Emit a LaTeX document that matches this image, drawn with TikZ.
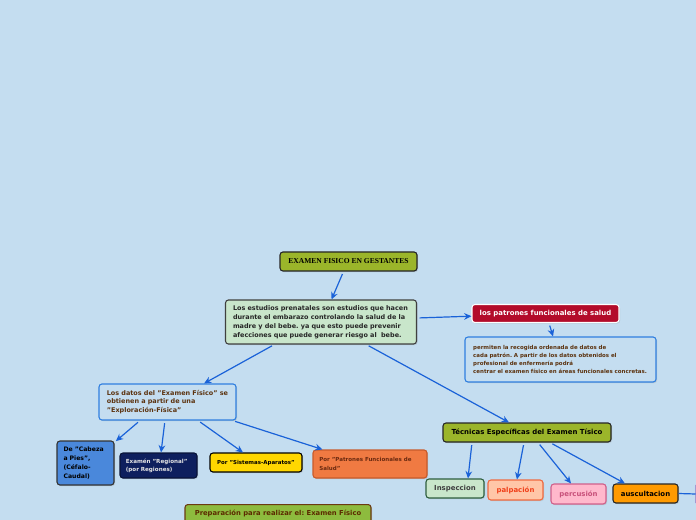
\documentclass[tikz,border=0pt]{standalone}
\usepackage{fontspec}
\setmainfont{DejaVu Sans}
\newfontfamily\serifbf{Liberation Serif}
\usetikzlibrary{arrows.meta,shadows}
\frenchspacing
\definecolor{bgc}{HTML}{C4DDF0}
\definecolor{olive}{HTML}{9BB52A}
\definecolor{lgreen}{HTML}{C9E6CB}
\definecolor{crimson}{HTML}{B30B2A}
\definecolor{bluebd}{HTML}{2F7FE0}
\definecolor{browntx}{HTML}{5C3310}
\definecolor{midblue}{HTML}{4A88DB}
\definecolor{navy}{HTML}{0E1F5E}
\definecolor{yel}{HTML}{FFD700}
\definecolor{orpat}{HTML}{F07A42}
\definecolor{orpatbd}{HTML}{C85A2A}
\definecolor{orpattx}{HTML}{6B2A10}
\definecolor{insbd}{HTML}{2E5E3E}
\definecolor{palfill}{HTML}{FFC6A8}
\definecolor{palbd}{HTML}{F06A40}
\definecolor{paltx}{HTML}{F0401A}
\definecolor{perfill}{HTML}{FFB8CC}
\definecolor{perbd}{HTML}{D0608A}
\definecolor{pertx}{HTML}{C8507A}
\definecolor{ausc}{HTML}{FF9A00}
\definecolor{prepfill}{HTML}{8DBB3E}
\definecolor{prepbd}{HTML}{6B3A12}
\definecolor{preptx}{HTML}{5B2A00}
\definecolor{edgec}{HTML}{1A62D8}
\definecolor{purp}{HTML}{6A1B9A}
\tikzset{
  box/.style={rounded corners=2.2pt, line width=0.8pt, inner sep=0pt, font=\bfseries,
    drop shadow={shadow xshift=0.8pt, shadow yshift=-0.8pt, opacity=0.25}},
  conn/.style={draw=edgec, line width=0.9pt, shorten <=2pt, -{Stealth[length=5.5pt,width=5pt]}},
  plain/.style={draw=edgec, line width=0.9pt}
}
\begin{document}
\begin{tikzpicture}[x=0.75pt,y=-0.75pt]
\fill[bgc] (0,0) rectangle (696,520);
\useasboundingbox (0,0) rectangle (696,520);
\clip (0,0) rectangle (696,520);

\node[box, fill=olive, draw=black!85, minimum width=102.75pt, minimum height=14.25pt,
  font=\serifbf\bfseries\fontsize{5.65}{6}\selectfont] (title) at (348.5,261.5) {EXAMEN FISICO EN GESTANTES};

\node[box, fill=lgreen, draw=black!75, minimum width=143.25pt, minimum height=33pt,
  text width=132pt, align=left, text=black!85, font=\bfseries\fontsize{4.85}{6.75}\selectfont] (main) at (321,322)
  {Los estudios prenatales son estudios que hacen\\durante el embarazo controlando la salud de la\\madre y del bebe. ya que esto puede prevenir\\afecciones que puede generar riesgo al~ bebe.};

\node[box, fill=crimson, draw=white, minimum width=110.25pt, minimum height=13.5pt,
  text=white, font=\bfseries\fontsize{5.2}{6}\selectfont] (red) at (545.5,313.5) {los patrones funcionales de salud};

\node[box, fill=bgc, draw=bluebd, minimum width=143.25pt, minimum height=33.75pt,
  text width=131pt, align=left, text=browntx, font=\bfseries\fontsize{4.1}{6.2}\selectfont] (perm) at (560.5,359.5)
  {permiten la recogida ordenada de datos de\\cada patrón. A partir de los datos obtenidos el\\profesional de enfermería podrá\\centrar el examen físico en áreas funcionales concretas.};

\node[box, fill=bgc, draw=bluebd, minimum width=102.75pt, minimum height=27pt,
  text width=91pt, align=left, text=browntx, font=\bfseries\fontsize{4.85}{6.3}\selectfont] (datos) at (167.5,402)
  {Los datos del "Examen Físico" se\\obtienen a partir de una\\"Exploración-Física"};

\node[box, fill=midblue, draw=black!80, minimum width=42.75pt, minimum height=33pt,
  text width=33pt, align=left, text=black, font=\bfseries\fontsize{4.6}{6.6}\selectfont] (cabeza) at (85.5,463)
  {De "Cabeza\\a Pies",\\(Céfalo-\\Caudal)};

\node[box, fill=navy, draw=navy!60!black, minimum width=57.75pt, minimum height=18.75pt,
  text width=49pt, align=left, text=black!10, font=\bfseries\fontsize{4.2}{6}\selectfont] (regional) at (158.5,465.5)
  {Examén "Regional"\\(por Regiones)};

\node[box, fill=yel, draw=black, minimum width=69pt, minimum height=14.25pt,
  text=black, font=\bfseries\fontsize{4.1}{6}\selectfont] (sist) at (256,462.5) {Por "Sistemas-Aparatos"};

\node[box, fill=orpat, draw=orpatbd, minimum width=85.5pt, minimum height=21pt,
  text width=76pt, align=left, text=orpattx, font=\bfseries\fontsize{4.15}{6.4}\selectfont] (patr) at (370,464)
  {Por "Patrones Funcionales de\\Salud"};

\node[box, fill=olive, draw=black!85, minimum width=126pt, minimum height=14.25pt,
  text=black, font=\bfseries\fontsize{5.2}{6}\selectfont] (tecn) at (527,432.5) {Técnicas Específicas del Examen Tísico};

\node[box, fill=lgreen, draw=insbd, minimum width=43.5pt, minimum height=14.25pt,
  text=black!75, font=\bfseries\fontsize{5.2}{6}\selectfont] (insp) at (455,488.5) {Inspeccion};

\node[box, fill=palfill, draw=palbd, minimum width=41.25pt, minimum height=15pt,
  text=paltx, font=\bfseries\fontsize{5.2}{6}\selectfont] (palp) at (515.5,490) {palpación};

\node[box, fill=perfill, draw=perbd, minimum width=41.25pt, minimum height=15pt,
  text=pertx, font=\bfseries\fontsize{5.2}{6}\selectfont] (perc) at (578.5,494) {percusión};

\node[box, fill=ausc, draw=black!85, minimum width=48.75pt, minimum height=14.25pt,
  text=black, font=\bfseries\fontsize{5.2}{6}\selectfont] (ausc) at (645.5,493.5) {auscultacion};

\node[box, fill=white, draw=purp, minimum width=30pt, minimum height=16.5pt, anchor=west] (next) at (695.5,494) {};

\node[box, fill=prepfill, draw=prepbd, minimum width=139.5pt, minimum height=18pt,
  text=preptx, anchor=north, font=\bfseries\fontsize{5.1}{6}\selectfont, text depth=6pt] (prep) at (278,504)
  {Preparación para realizar el: Examen Físico};

% connectors
\draw[conn] ([xshift=-3.75pt]title.south) -- ([xshift=7.9pt]main.north);
\draw[conn] ([yshift=3pt]main.east) -- ([yshift=-2pt]red.west);
\draw[conn] ([xshift=2.6pt]red.south) -- ([xshift=-5.6pt]perm.north);
\draw[conn] ([xshift=-35pt]main.south) -- ([xshift=27.4pt]datos.north);
\draw[conn] ([xshift=34pt]main.south) -- ([xshift=-13.5pt]tecn.north);
\draw[conn] ([xshift=-20.6pt]datos.south) -- ([xshift=1pt,yshift=-0.5pt]cabeza.north east);
\draw[conn] ([xshift=-1.9pt]datos.south) -- ([xshift=1.9pt]regional.north);
\draw[conn] ([xshift=22.9pt]datos.south) -- ([xshift=-9.75pt]sist.north);
\draw[conn] ([xshift=-3pt]datos.south east) -- ([xshift=7.5pt]patr.north west);
\draw[conn] ([xshift=-41.25pt]tecn.south) -- ([xshift=9.75pt]insp.north);
\draw[conn] ([xshift=-2.25pt]tecn.south) -- ([xshift=1.1pt]palp.north);
\draw[conn] ([xshift=8.25pt]tecn.south) -- ([xshift=-5.6pt]perc.north);
\draw[conn] ([xshift=17.25pt]tecn.south) -- ([xshift=-15.4pt]ausc.north);
\draw[plain] (ausc.east) -- (next.west);
\end{tikzpicture}
\end{document}
